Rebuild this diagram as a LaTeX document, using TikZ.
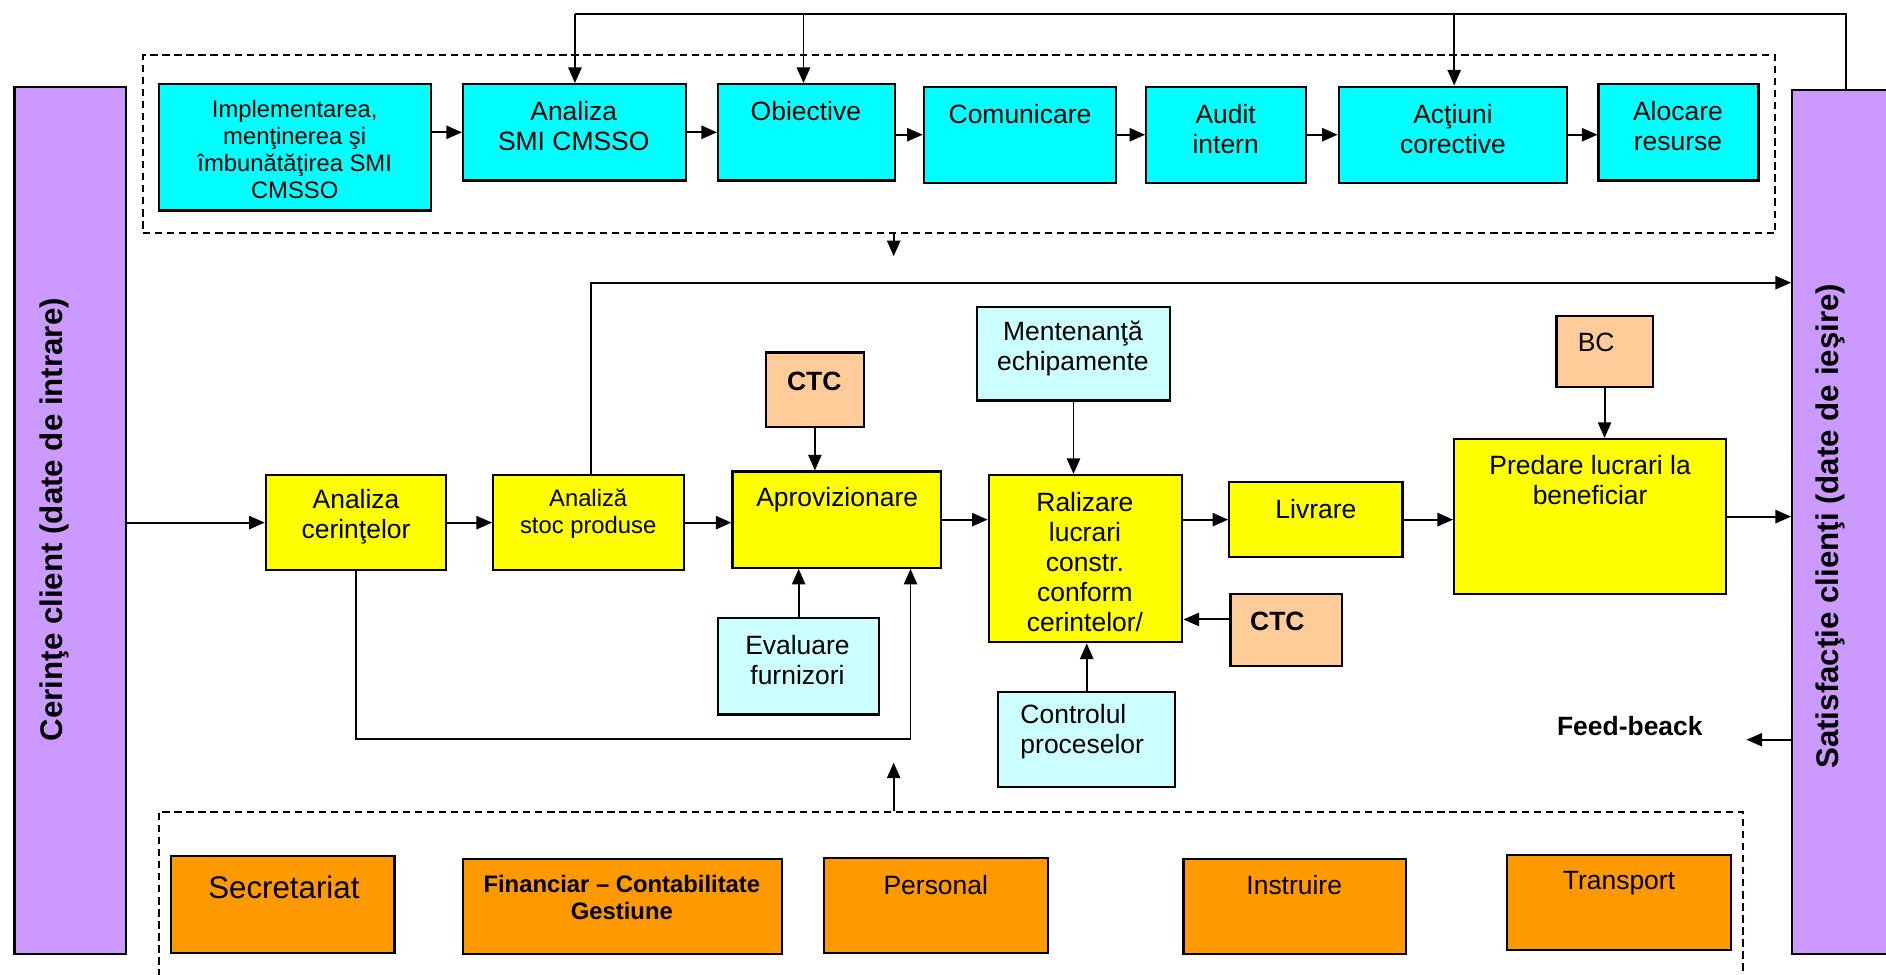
\documentclass[tikz,border=0pt]{standalone}
\usepackage{fontspec}
\setmainfont{Liberation Sans}
\usetikzlibrary{arrows.meta,fit}
\definecolor{cy}{HTML}{00FFFF}
\definecolor{ye}{HTML}{FFFF00}
\definecolor{lc}{HTML}{CCFFFF}
\definecolor{pe}{HTML}{FFCC99}
\definecolor{orng}{HTML}{FF9900}
\definecolor{pu}{HTML}{CC99FF}
\begin{document}
\begin{tikzpicture}[x=0.5pt,y=-0.5pt,
 box/.style={draw=black, line width=0.9pt, inner sep=0pt},
 ln/.style={line width=0.8pt},
 arr/.style={ln, -{Triangle[length=6.5pt,width=5.5pt]}},
 dsh/.style={draw=black, line width=0.75pt, dash pattern=on 3pt off 2pt, inner sep=0pt},
 tx/.style={inner sep=0pt, align=center, font=\fontsize{11}{12.5}\selectfont},
 txs/.style={inner sep=0pt, align=center, font=\fontsize{9.9}{11.2}\selectfont},
 tb/.style={inner sep=0pt, align=center, font=\fontsize{11}{12.5}\selectfont\bfseries},
 tbar/.style={inner sep=0pt, rotate=90, font=\fontsize{13}{15}\selectfont\bfseries}]
\useasboundingbox (0,0) rectangle (1568,810);

% side bars
\node[box, fill=pu, fit={(12,72)(105,793)}] (lbar) {};
\node[tbar] (lbart) at (45,432) {Cerinţe client (date de intrare)};
\node[box, fill=pu, fit={(1490,75)(1580,793)}] (rbar) {};
\node[tbar] (rbart) at (1522,437.5) {Satisfacţie clienţi (date de ieşire)};

% dashed groups
\node[dsh, fit={(119,46)(1476,194)}] (topgrp) {};
\node[dsh, fit={(132,675)(1449,840)}] (botgrp) {};

% top row
\node[box, fill=cy, fit={(132,70)(358,175)}] (impl) {};
\node[txs] (implt) at (245,124.5) {Implementarea,\\menţinerea şi\\îmbunătăţirea SMI\\CMSSO};
\node[box, fill=cy, fit={(385,70)(570,150)}] (ana) {};
\node[tx] (anat) at (477,104.5) {Analiza\\SMI CMSSO};
\node[box, fill=cy, fit={(597,70)(744,150)}] (obj) {};
\node[tx] (objt) at (670,92) {Obiective};
\node[box, fill=cy, fit={(768,72)(928,152)}] (com) {};
\node[tx] (comt) at (848,95) {Comunicare};
\node[box, fill=cy, fit={(953,72)(1086,152)}] (aud) {};
\node[tx] (audt) at (1019,107.5) {Audit\\intern};
\node[box, fill=cy, fit={(1113,72)(1303,152)}] (act) {};
\node[tx] (actt) at (1208,107.5) {Acţiuni\\corective};
\node[box, fill=cy, fit={(1329,70)(1462,150)}] (aloc) {};
\node[tx] (aloct) at (1395,104.5) {Alocare\\resurse};

% main row
\node[box, fill=ye, fit={(221,395)(371,474)}] (anc) {};
\node[tx] (anct) at (296,429.5) {Analiza\\cerinţelor};
\node[box, fill=ye, fit={(410,395)(569,474)}] (stoc) {};
\node[txs] (stoct) at (489,427) {Analiză\\stoc produse};
\node[box, fill=ye, fit={(609,392)(782,472)}] (aprov) {};
\node[tx] (aprovt) at (696,415) {Aprovizionare};
\node[box, fill=ye, fit={(822,395)(983,534)}] (ral) {};
\node[tx] (ralt) at (902,467) {Ralizare\\lucrari\\constr.\\conform\\cerintelor/};
\node[box, fill=ye, fit={(1022,401)(1166,463)}] (liv) {};
\node[tx] (livt) at (1094,423) {Livrare};
\node[box, fill=ye, fit={(1209,365)(1435,494)}] (pred) {};
\node[tx] (predt) at (1322,399) {Predare lucrari la\\beneficiar};

% side boxes
\node[box, fill=pe, fit={(637,293)(718,355)}] (ctc1) {};
\node[tb] (ctc1t) at (677,317) {CTC};
\node[box, fill=lc, fit={(812,255)(973,333)}] (ment) {};
\node[tx] (mentt) at (892,289.5) {Mentenanţă\\echipamente};
\node[box, fill=pe, fit={(1294,263)(1374,322)}] (bc) {};
\node[tx] (bct) at (1327,285) {BC};
\node[box, fill=lc, fit={(597,514)(731,594)}] (eval) {};
\node[tx] (evalt) at (663,549) {Evaluare\\furnizori};
\node[box, fill=pe, fit={(1023,494)(1116,554)}] (ctc2) {};
\node[tb] (ctc2t) at (1062,517) {CTC};
\node[box, fill=lc, fit={(830,575)(977,654)}] (ctrl) {};
\node[tx, align=left, anchor=west] (ctrlt) at (848,608.5) {Controlul\\proceselor};
\node[tb] (fbt) at (1355,604) {Feed-beack};

% bottom row
\node[box, fill=orng, fit={(142,712)(328,792)}] (sec) {};
\node[inner sep=0pt, font=\fontsize{13}{15}\selectfont] (sect) at (236,738) {Secretariat};
\node[box, fill=orng, fit={(385,714)(650,793)}] (fin) {};
\node[inner sep=0pt, align=center, font=\fontsize{9.9}{11.2}\selectfont\bfseries] (fint) at (517,746) {Financiar – Contabilitate\\Gestiune};
\node[box, fill=orng, fit={(685,713)(871,792)}] (pers) {};
\node[tx] (perst) at (778,736) {Personal};
\node[box, fill=orng, fit={(984,714)(1169,793)}] (instr) {};
\node[tx] (instrt) at (1076,736) {Instruire};
\node[box, fill=orng, fit={(1253,711)(1439,790)}] (trans) {};
\node[tx] (transt) at (1346,734) {Transport};

% top feedback line
\coordinate (tA) at (478,12);
\coordinate (tB) at (668,12);
\coordinate (tC) at (1209,12);
\coordinate (tR) at (1535,12);
\draw[ln] (tR |- rbar.north) -- (tR) -- (tA);
\draw[arr] (tA) -- (tA |- ana.north);
\draw[arr] (tB) -- (tB |- obj.north);
\draw[arr] (tC) -- (tC |- act.north);

% top row arrows
\draw[arr] (impl.east |- ana.west) -- (ana.west);
\draw[arr] (ana.east) -- (obj.west);
\draw[arr] (obj.east |- com.west) -- (com.west);
\draw[arr] (com.east) -- (aud.west);
\draw[arr] (aud.east) -- (act.west);
\draw[arr] (act.east) -- (aloc.west |- act.east);

% group arrows
\coordinate (d1) at (743,213);
\draw[arr] (d1 |- topgrp.south) -- (d1);
\coordinate (u1) at (743,634);
\draw[arr] (u1 |- botgrp.north) -- (u1);

% main row arrows
\draw[arr] (lbar.east |- anc.west) -- (anc.west);
\draw[arr] (anc.east) -- (stoc.west);
\draw[arr] (stoc.east) -- (aprov.west |- stoc.east);
\draw[arr] (aprov.east) -- (ral.west |- aprov.east);
\draw[arr] (ral.east |- liv.west) -- (liv.west);
\draw[arr] (liv.east) -- (pred.west |- liv.east);
\draw[arr] (pred.east) -- (rbar.west |- pred.east);

% middle long line
\coordinate (m1) at (491,235);
\draw[arr] (stoc.north -| m1) -- (m1) -- (m1 -| rbar.west);

% side arrows
\draw[arr] (ctc1.south) -- (ctc1.south |- aprov.north);
\draw[arr] (ment.south) -- (ment.south |- ral.north);
\draw[arr] (bc.south) -- (bc.south |- pred.north);
\draw[arr] (eval.north) -- (eval.north |- aprov.south);
\draw[arr] ([yshift=4.5pt]ctc2.west) -- ([yshift=4.5pt]ctc2.west -| ral.east);
\draw[arr] (ctrl.north) -- (ctrl.north |- ral.south);

% loop
\coordinate (lp) at (757,614);
\draw[arr] (anc.south) |- (lp) -- (lp |- aprov.south);

% feedback
\coordinate (fb) at (1452,615);
\draw[arr] (fb -| rbar.west) -- (fb);
\end{tikzpicture}
\end{document}
